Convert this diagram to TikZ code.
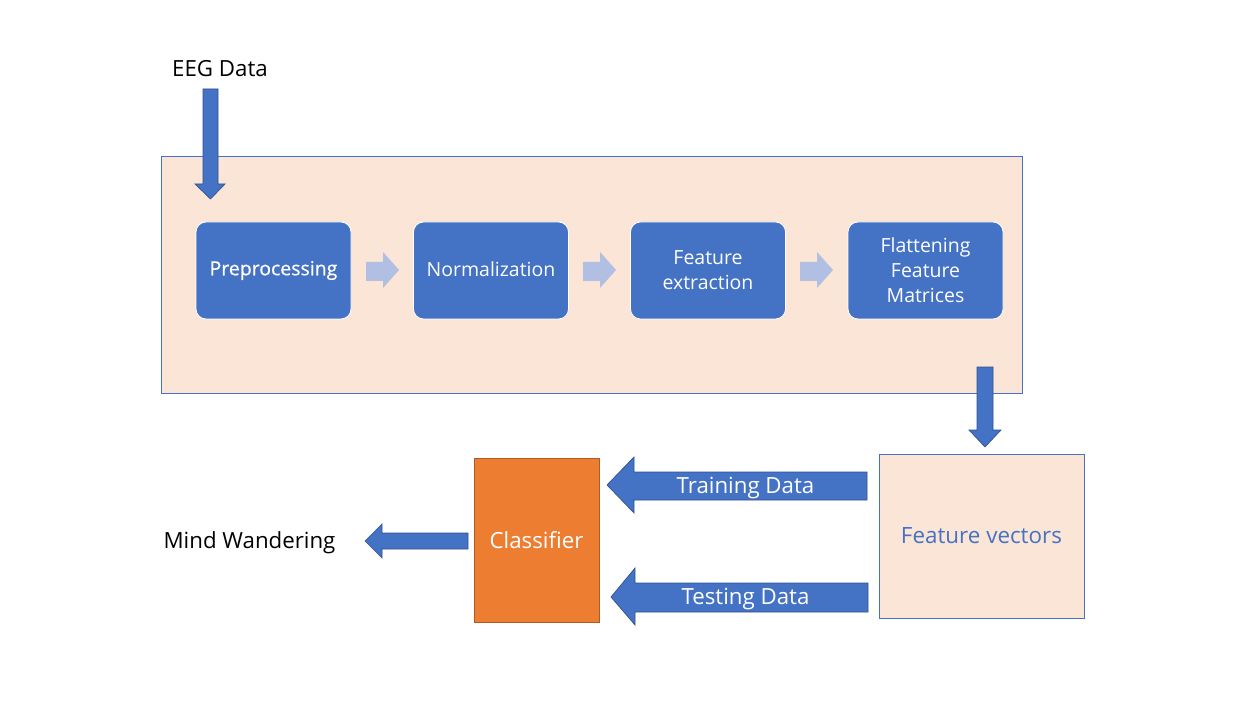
\documentclass[tikz,border=0pt]{standalone}
\usepackage{fontspec}
\setmainfont{Open Sans}
\newfontfamily\semib[FakeBold=0.6]{Open Sans}
\usetikzlibrary{positioning}
\definecolor{cblue}{HTML}{4472C4}
\definecolor{cblueD}{HTML}{2F528F}
\definecolor{cpeach}{HTML}{FBE5D6}
\definecolor{corange}{HTML}{ED7D31}
\definecolor{corangeD}{HTML}{AE5A21}
\definecolor{clight}{HTML}{B0BFE2}
\tikzset{
  panel/.style={draw=cblue, fill=cpeach, line width=0.6pt, inner sep=0pt},
  procbox/.style={draw=white, fill=cblue, line width=0.6pt, rounded corners=7.5pt,
    minimum width=116.25pt, minimum height=72.75pt, text=white, align=center,
    font=\fontsize{14.6pt}{18.75pt}\selectfont, inner sep=0pt},
  classbox/.style={draw=corangeD, fill=corange, line width=0.6pt,
    minimum width=93.75pt, minimum height=123pt, text=white,
    font=\fontsize{16.7pt}{19pt}\selectfont, inner sep=0pt},
  vecbox/.style={draw=cblue, fill=cpeach, line width=0.6pt,
    minimum width=153.75pt, minimum height=123pt, text=cblue,
    font=\fontsize{16.8pt}{19pt}\selectfont, inner sep=0pt},
  plain/.style={text=black, font=\fontsize{16.7pt}{19pt}\selectfont, inner sep=0pt},
  arrlabel/.style={text=white, font=\fontsize{16.7pt}{19pt}\selectfont, inner sep=0pt},
  bigarrow/.style={fill=cblue, draw=cblueD, line width=0.5pt},
  lightarrow/.style={fill=clight, draw=none},
}
\begin{document}
\begin{tikzpicture}[x=0.75pt,y=-0.75pt]
\useasboundingbox (0,0) rectangle (1252,716);
% panel
\node[panel, minimum width=645.75pt, minimum height=177.75pt] (panel) at (591.5,274.5) {};
% process boxes
\node[procbox] (pre) at (273.5,270.5) {\semib Preprocessing};
\node[procbox] (norm) at (491,270.5) {\raisebox{1.5pt}{Normalization}};
\node[procbox] (feat) at (708,270.5) {Feature\\extraction};
\node[procbox] (flat) at (925.5,270.5) {Flattening\\Feature\\Matrices};
% light arrows between process boxes
\foreach \dx in {0,217,434}{
  \fill[lightarrow] (366+\dx,262) -- (383+\dx,262) -- (383+\dx,252) -- (399+\dx,270)
    -- (383+\dx,288) -- (383+\dx,281) -- (366+\dx,281) -- cycle;
}
% labels
\node[plain] (eeg) at (220,69) {EEG Data};
\node[plain] (mind) at (249.5,543) {Mind Wandering};
% lower boxes
\node[classbox] (cls) at (536.5,540) {Classifier};
\node[vecbox] (vec) at (981.5,536) {Feature vectors};
% EEG arrow
\draw[bigarrow] (203,89) -- (218,89) -- (218,184) -- (225,184) -- (210.5,199)
  -- (195,184) -- (203,184) -- cycle;
% down arrow to feature vectors
\draw[bigarrow] (977,367) -- (993,367) -- (993,430) -- (1001,430) -- (985,447)
  -- (969,430) -- (977,430) -- cycle;
% training arrow
\draw[bigarrow] (867,472) -- (634,472) -- (634,457) -- (607,485) -- (634,513)
  -- (634,500) -- (867,500) -- cycle;
\node[arrlabel] (train) at (745.5,488) {Training Data};
% testing arrow
\draw[bigarrow] (868,583) -- (635,583) -- (635,568) -- (611,597) -- (635,625)
  -- (635,612) -- (868,612) -- cycle;
\node[arrlabel] (test) at (745.5,599) {Testing Data};
% output arrow
\draw[bigarrow] (468,533) -- (382,533) -- (382,524) -- (365,541) -- (382,558)
  -- (382,549) -- (468,549) -- cycle;
\end{tikzpicture}
\end{document}
